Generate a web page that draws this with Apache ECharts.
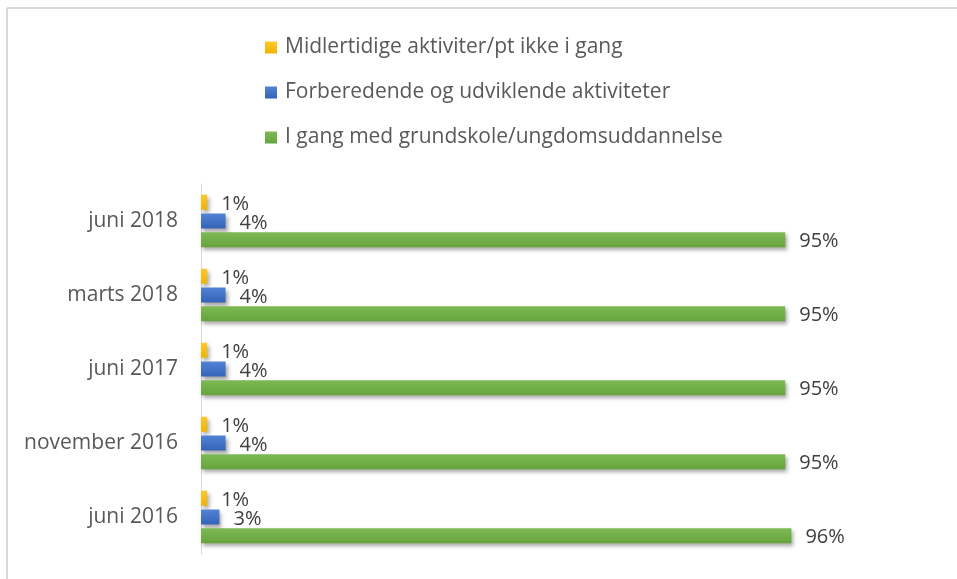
<!DOCTYPE html>
<html>
<head>
<meta charset="utf-8">
<script src="https://cdn.jsdelivr.net/npm/echarts@6/dist/echarts.min.js"></script>
<style>
    html, body { margin: 0; padding: 0; background: #fff; }
    #main { width: 957px; height: 579px; }
</style>
</head>
<body>
<div id="main"></div>
<script>
    // categories bottom -> top (ECharts category y axis runs upwards)
    var categories = ['juni 2016', 'november 2016', 'juni 2017', 'marts 2018', 'juni 2018']
    var seriesNames = [
        'Midlertidige aktiviter/pt ikke i gang',
        'Forberedende og udviklende aktiviteter',
        'I gang med grundskole/ungdomsuddannelse'
    ]
    var midlertidige = [1, 1, 1, 1, 1]
    var forberedende = [3, 4, 4, 4, 4]
    var iGang = [96, 95, 95, 95, 95]

    var textColor = '#595959'
    var fontFamily = 'Open Sans, sans-serif'

    function grad(c1, c2) {
        return new echarts.graphic.LinearGradient(0, 0, 0, 1, [
            { offset: 0, color: c1 },
            { offset: 1, color: c2 }
        ])
    }

    function makeSeries(name, data, c1, c2) {
        return {
            name: name,
            type: 'bar',
            data: data,
            barWidth: 15,
            barGap: '25%',
            itemStyle: {
                color: grad(c1, c2),
                shadowColor: 'rgba(0,0,0,0.35)',
                shadowBlur: 4,
                shadowOffsetX: 2,
                shadowOffsetY: 3
            },
            label: {
                show: true,
                position: 'right',
                distance: 14,
                offset: [0, 2],
                formatter: '{c}%',
                color: '#404040',
                fontSize: 20,
                fontFamily: fontFamily
            }
        }
    }

    var chart = echarts.init(document.getElementById('main'))
    chart.setOption({
        animation: false,
        textStyle: { fontFamily: fontFamily },
        legend: {
            orient: 'vertical',
            left: 260,
            top: 32,
            itemWidth: 12,
            itemHeight: 12,
            itemGap: 24,
            icon: 'rect',
            data: seriesNames,
            textStyle: { color: textColor, fontSize: 21, fontFamily: fontFamily, padding: [0, 0, 0, 3] }
        },
        grid: {
            left: 201,
            top: 184,
            width: 615,
            height: 370
        },
        xAxis: {
            type: 'value',
            min: 0,
            max: 100,
            show: false
        },
        yAxis: {
            type: 'category',
            data: categories,
            axisLine: { lineStyle: { color: '#d9d9d9', width: 1 } },
            axisTick: { show: false },
            axisLabel: { color: textColor, fontSize: 21, margin: 23, fontFamily: fontFamily }
        },
        graphic: [
            { type: 'line', shape: { x1: 7, y1: 8, x2: 957, y2: 8 }, style: { stroke: '#d9d9d9', lineWidth: 2 } },
            { type: 'line', shape: { x1: 7, y1: 8, x2: 7, y2: 579 }, style: { stroke: '#d9d9d9', lineWidth: 2 } }
        ],
        series: [
            makeSeries(seriesNames[0], midlertidige, '#ffc72c', '#f0b400'),
            makeSeries(seriesNames[1], forberedende, '#5283d6', '#3462b8'),
            makeSeries(seriesNames[2], iGang, '#7dba55', '#66a33d')
        ]
    })
</script>
</body>
</html>
